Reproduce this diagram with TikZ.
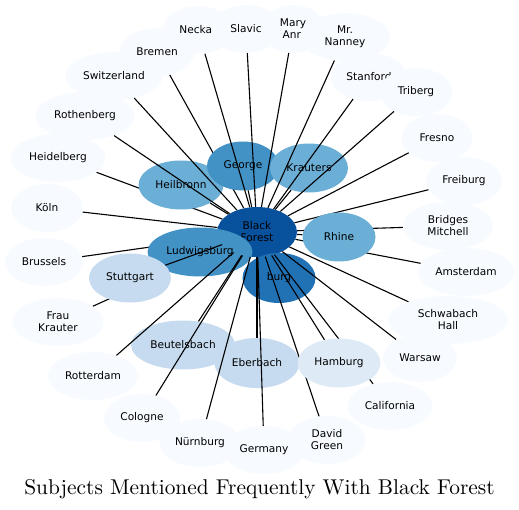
\documentclass[tikz,border=0pt]{standalone}
\usepackage{fontspec}
\usepackage{xcolor}
\usetikzlibrary{shapes.geometric}
\newfontfamily\labelfont{DejaVu Sans}
\definecolor{cBF}{HTML}{08519C}
\definecolor{cBurg}{HTML}{2171B5}
\definecolor{cHigh}{HTML}{4292C6}
\definecolor{cMid}{HTML}{6BAED6}
\definecolor{cLow}{HTML}{C6DBEF}
\definecolor{cFaint}{HTML}{DEEBF7}
\definecolor{cRing}{HTML}{F7FBFF}
\pgfdeclarelayer{under}
\pgfdeclarelayer{over}
\pgfdeclarelayer{top}
\pgfsetlayers{under,main,over,top}
\tikzset{
  base/.style={ellipse,inner sep=0pt,align=center,text=black,
               minimum height=48pt,font=\labelfont\fontsize{10.6}{12}\selectfont},
  ring/.style={base,fill=cRing},
  low/.style={base,fill=cLow,minimum height=49pt},
  mid/.style={base,fill=cMid,minimum height=49pt},
  high/.style={base,fill=cHigh,minimum height=49pt},
  hub/.style={base,fill=cBF,minimum height=50pt},
  link/.style={draw=black,line width=1.1pt},
  title/.style={inner sep=0pt,font=\fontsize{10}{12}\selectfont},
}

\begin{document}
\begin{tikzpicture}[x=1pt,y=-1pt]
\useasboundingbox (0,0) rectangle (519,510);

% ============ OUTER RING ============
\node[ring, minimum width=70pt] (neckar) at (198,30) {Neckar};
\node[ring, minimum width=70pt] (slavic) at (246,29) {Slavic};
\node[ring, minimum width=64pt] (maryann) at (293,29) {Mary\\Ann};
\node[ring, minimum width=90pt] (nanney) at (345,37) {Mr.\\Nanney};
\node[ring, minimum width=76pt] (stanford) at (369,77) {Stanford};
\node[ring, minimum width=73pt] (triberg) at (416,92) {Triberg};
\node[ring, minimum width=71pt] (fresno) at (437,138) {Fresno};
\node[ring, minimum width=76pt] (freiburg) at (464,181) {Freiburg};
\node[ring, minimum width=90pt] (bridges) at (448,226) {Bridges\\Mitchell};
\node[ring, minimum width=97pt] (amsterdam) at (466,272) {Amsterdam};
\node[ring, minimum width=120pt] (schwabach) at (448,320) {Schwabach\\Hall};
\node[ring, minimum width=74pt] (warsaw) at (420,358) {Warsaw};
\node[ring, minimum width=85pt] (california) at (390,406) {California};
\node[ring, minimum width=78pt] (davidgreen) at (327,440) {David\\Green};
\node[ring, minimum width=80pt] (germany) at (264,450) {Germany};
\node[ring, minimum width=81pt] (nurnburg) at (200,443) {Nürnburg};
\node[ring, minimum width=76pt] (cologne) at (142,418) {Cologne};
\node[ring, minimum width=90pt] (rotterdam) at (93,376) {Rotterdam};
\node[ring, minimum width=91pt] (fraukrauter) at (58,322) {Frau\\Krauter};
\node[ring, minimum width=78pt] (brussels) at (44,262) {Brussels};
\node[ring, minimum width=72pt] (koln) at (47,208) {Köln};
\node[ring, minimum width=95pt] (heidelberg) at (58,158) {Heidelberg};
\node[ring, minimum width=99pt] (rothenberg) at (85,116) {Rothenberg};
\node[ring, minimum width=75pt] (bremen) at (157,52) {Bremen};
\node[ring, minimum width=97pt] (switzerland) at (114,76) {Switzerland};

% ============ INNER NODES ============
\node[mid, minimum width=85pt] (heilbronn) at (181,185) {Heilbronn};
\node[high, minimum width=72pt] (george) at (243,166) {George};
\node[mid, minimum width=78pt] (krauters) at (309,168) {Krauters};
\node[hub, minimum width=80pt] (bf) at (257,232) {Black\\Forest};
\node[base, fill=cBurg, minimum width=73pt, minimum height=50pt] (burg) at (279,278) {burg};
\node[high, minimum width=105pt] (ludwigsburg) at (200,252) {Ludwigsburg};
\node[low, minimum width=82pt] (stuttgart) at (130,278) {Stuttgart};
\node[low, minimum width=104pt] (beutelsbach) at (183,345) {Beutelsbach};
\node[low, minimum width=85pt, minimum height=50pt] (eberbach) at (257,363) {Eberbach};
\begin{pgfonlayer}{top}
  \node[mid, minimum width=73pt] (rhine) at (339,237) {Rhine};
  \node[base, fill=cFaint, minimum width=83pt, minimum height=49pt] (hamburg) at (339,363) {Hamburg};
\end{pgfonlayer}

% ---------- edges hidden under nodes ----------
\begin{pgfonlayer}{under}
  \draw[link] (bf) -- (bremen);
  \draw[link] (bf) -- (heidelberg);
  \draw[link] (bf) -- (brussels);
  \draw[link] (bf) -- (fraukrauter);
\end{pgfonlayer}

% ---------- edges drawn over nodes ----------
\begin{pgfonlayer}{over}
  \draw[link] (bf) -- (neckar);
  \draw[link] (bf) -- (slavic);
  \draw[link] (bf) -- (maryann);
  \draw[link] (bf) -- (nanney);
  \draw[link] (bf) -- (stanford);
  \draw[link] (bf) -- (triberg);
  \draw[link] (bf) -- (fresno);
  \draw[link] (bf) -- (freiburg);
  \draw[link] (bf) -- (bridges);
  \draw[link] (bf) -- (rhine);
  \draw[link] (bf) -- (amsterdam);
  \draw[link] (bf) -- (schwabach);
  \draw[link] (bf) -- (warsaw);
  \draw[link] (bf) -- (california);
  \draw[link] (bf) -- (hamburg);
  \draw[link] (bf) -- (davidgreen);
  \draw[link] (bf) -- (eberbach);
  \draw[link] (bf) -- (germany);
  \draw[link] (bf) -- (nurnburg);
  \draw[link] (bf) -- (beutelsbach);
  \draw[link] (bf) -- (cologne);
  \draw[link] (bf) -- (rotterdam);
  \draw[link] (bf) -- (stuttgart);
  \draw[link] (bf) -- (koln);
  \draw[link] (bf) -- (heilbronn);
  \draw[link] (bf) -- (rothenberg);
  \draw[link] (bf) -- (switzerland);
  \draw[link] (bf) -- (george);
  \draw[link] (bf) -- (krauters);
\end{pgfonlayer}

% ---------- title ----------
\node[title] (caption) at (259.5,489) {\scalebox{2.14}{Subjects Mentioned Frequently With Black Forest}};

\end{tikzpicture}
\end{document}
